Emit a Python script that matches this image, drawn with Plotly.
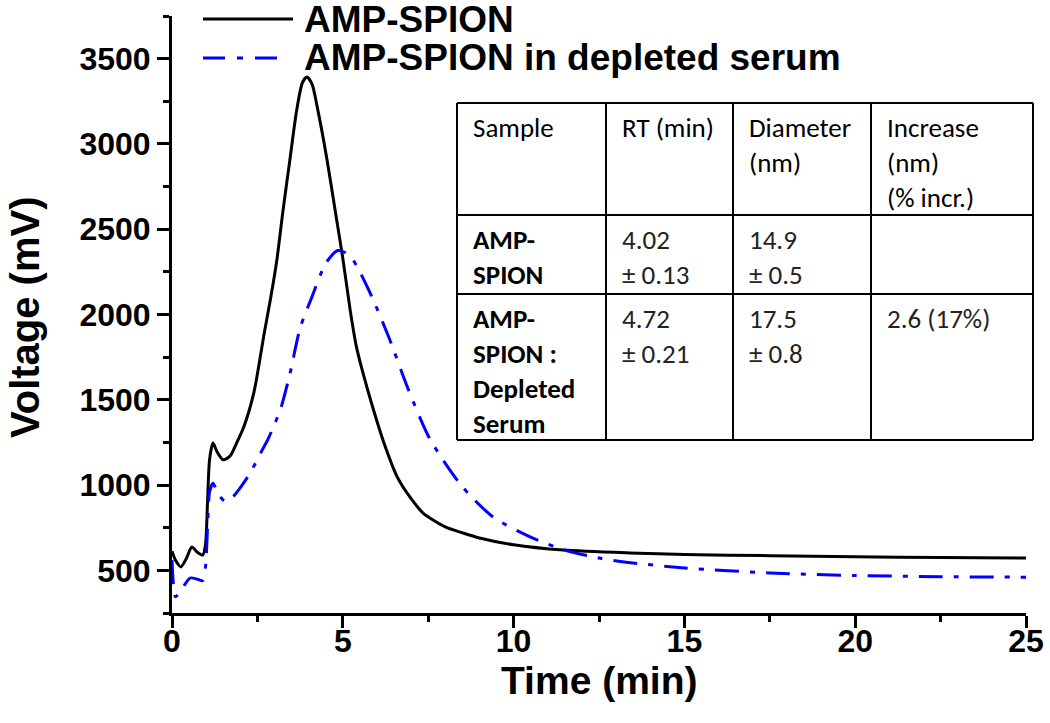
import plotly.graph_objects as go

# ---------------- data ----------------
t_amp = [0, 0.1, 0.26, 0.42, 0.58, 0.75, 0.9, 0.98, 1.04, 1.1, 1.2, 1.32, 1.5, 1.7, 1.9,
         2.1, 2.4, 2.7, 2.9, 3.07, 3.25, 3.45, 3.65, 3.82, 3.95, 4.1, 4.27, 4.54, 4.8, 5.0, 5.22,
         5.4, 5.6, 5.9, 6.2, 6.6, 7.0, 7.35, 8.0, 8.52, 9.0, 10.0, 11.45, 13.4, 15.0,
         17.5, 20.0, 22.5, 25.0]
v_amp = [612, 560, 520, 570, 637, 605, 590, 650, 900, 1150, 1246, 1195, 1148, 1170, 1250,
         1340, 1545, 1890, 2110, 2320, 2610, 2905, 3198, 3360, 3392, 3350, 3198, 2905, 2580, 2330, 2020,
         1810, 1650, 1440, 1250, 1045, 920, 836, 755, 719, 690, 650, 619, 602, 593,
         586, 580, 575, 572]

t_dep = [0, 0.04, 0.1, 0.3, 0.53, 0.75, 0.9, 0.98, 1.04, 1.1, 1.2, 1.35, 1.55, 1.8, 2.0,
         2.3, 2.6, 2.8, 3.0, 3.2, 3.45, 3.75, 4.1, 4.5, 4.85, 5.05, 5.3, 5.8, 6.35, 6.9,
         7.55, 8.5, 9.4, 10.5, 11.5, 12.5, 13.3, 15.0, 17.5, 20.0, 22.5, 25.0]
v_dep = [560, 420, 345, 395, 455, 448, 440, 520, 750, 960, 1010, 950, 905, 935, 985,
         1075, 1190, 1265, 1355, 1460, 1650, 1920, 2105, 2300, 2375, 2365, 2320, 2126, 1865, 1570,
         1270, 990, 813, 695, 619, 572, 548, 514, 485, 470, 463, 460]

series_names = ["AMP-SPION", "AMP-SPION in depleted serum"]

table_header = ["Sample", "RT (min)", "Diameter<br>(nm)", "Increase<br>(nm)<br>(% incr.)"]
table_rows = [
    ["AMP-<br>SPION", "4.02<br>± 0.13", "14.9<br>± 0.5", ""],
    ["AMP-<br>SPION :<br>Depleted<br>Serum", "4.72<br>± 0.21", "17.5<br>± 0.8", "2.6 (17%)"],
]

x_ticks = [0, 5, 10, 15, 20, 25]
y_ticks = [500, 1000, 1500, 2000, 2500, 3000, 3500]
x_title = "Time (min)"
y_title = "Voltage (mV)"

# ---------------- layout geometry ----------------
# plot area in screen pixels: x 172..1026, y 16..613 (page body margin removed)
W, H = 1050, 723
PL, PR, PT, PB = 172, 1026, 16, 613
PW, PH = PR - PL, PB - PT


def px(xs):
    return (xs - PL) / PW


def py(ys):
    return (PB - ys) / PH


AX_FONT = "Liberation Sans, Arial, sans-serif"
TB_FONT = "Carlito, Lato, sans-serif"

fig = go.Figure()
fig.add_trace(go.Scatter(x=t_amp, y=v_amp, mode="lines", name=series_names[0],
                         line=dict(color="black", width=3, shape="spline", smoothing=0.7),
                         showlegend=False))
fig.add_trace(go.Scatter(x=t_dep, y=v_dep, mode="lines", name=series_names[1],
                         line=dict(color="#0000ff", width=3, shape="spline", smoothing=0.7,
                                   dash="24px,11px,5px,11px"),
                         showlegend=False))

shapes = []
annotations = []

# manual legend
legend_y = [19, 58]
shapes.append(dict(type="line", xref="paper", yref="paper", x0=px(203), x1=px(293),
                   y0=py(legend_y[0]), y1=py(legend_y[0]), line=dict(color="black", width=3)))
shapes.append(dict(type="line", xref="paper", yref="paper", x0=px(203), x1=px(283),
                   y0=py(legend_y[1]), y1=py(legend_y[1]),
                   line=dict(color="#0000ff", width=3, dash="22px,12px,6px,12px")))
for name, yy in zip(series_names, legend_y):
    annotations.append(dict(text=name, xref="paper", yref="paper", x=px(302), y=py(yy),
                            xanchor="left", yanchor="middle", showarrow=False,
                            font=dict(family=AX_FONT, size=37, color="black", weight="bold")))

# axis titles
annotations.append(dict(text=x_title, xref="paper", yref="paper", x=px(599), y=py(681),
                        xanchor="center", yanchor="middle", showarrow=False,
                        font=dict(family=AX_FONT, size=39, color="black", weight="bold")))
annotations.append(dict(text=y_title, xref="paper", yref="paper", x=px(25), y=py(317),
                        xanchor="center", yanchor="middle", showarrow=False, textangle=-90,
                        font=dict(family=AX_FONT, size=40, color="black", weight="bold")))

# table
col_x = [457, 606, 733, 871, 1033]
row_y = [103, 215, 294, 440]
for cx in col_x:
    shapes.append(dict(type="line", xref="paper", yref="paper", x0=px(cx), x1=px(cx),
                       y0=py(row_y[0]), y1=py(row_y[-1]), line=dict(color="black", width=2)))
for ry in row_y:
    shapes.append(dict(type="line", xref="paper", yref="paper", x0=px(col_x[0]), x1=px(col_x[-1]),
                       y0=py(ry), y1=py(ry), line=dict(color="black", width=2)))

text_x = [c + 14 for c in col_x[:4]]
for j, txt in enumerate(table_header):
    annotations.append(dict(text=txt, xref="paper", yref="paper", x=px(text_x[j]), y=py(row_y[0] + 6),
                            xanchor="left", yanchor="top", align="left", showarrow=False,
                            font=dict(family=TB_FONT, size=27, color="black")))
for i, row in enumerate(table_rows):
    for j, txt in enumerate(row):
        if not txt:
            continue
        annotations.append(dict(text=txt, xref="paper", yref="paper", x=px(text_x[j]),
                                y=py(row_y[i + 1] + 6),
                                xanchor="left", yanchor="top", align="left", showarrow=False,
                                font=dict(family=TB_FONT, size=27,
                                          color="black" if j == 0 else "#222222",
                                          weight="bold" if j == 0 else "normal")))

fig.update_layout(
    width=W, height=H,
    margin=dict(l=PL, r=W - PR, t=PT, b=H - PB, autoexpand=False),
    paper_bgcolor="white", plot_bgcolor="white",
    shapes=shapes, annotations=annotations,
    showlegend=False,
)

fig.update_xaxes(
    range=[0, 25], tickvals=x_ticks, ticktext=[str(v) for v in x_ticks],
    showgrid=False, zeroline=False, showline=True, linecolor="black", linewidth=3,
    ticks="outside", ticklen=12, tickwidth=3, tickcolor="black",
    minor=dict(dtick=2.5, tick0=0, ticks="outside", ticklen=6, tickwidth=3, tickcolor="black", showgrid=False),
    tickfont=dict(family=AX_FONT, size=32, color="black", weight="bold"),
    ticklabelstandoff=-14,
)
fig.update_yaxes(
    range=[250, 3750], tickvals=y_ticks, ticktext=[str(v) for v in y_ticks],
    showgrid=False, zeroline=False, showline=True, linecolor="black", linewidth=3,
    ticks="outside", ticklen=12, tickwidth=3, tickcolor="black",
    minor=dict(dtick=250, tick0=250, ticks="outside", ticklen=6, tickwidth=3, tickcolor="black", showgrid=False),
    tickfont=dict(family=AX_FONT, size=32, color="black", weight="bold"),
    ticklabelstandoff=0,
)

fig.write_html("out.html", config={"displayModeBar": False},
               post_script="document.body.style.margin='0';document.body.style.padding='0';")
